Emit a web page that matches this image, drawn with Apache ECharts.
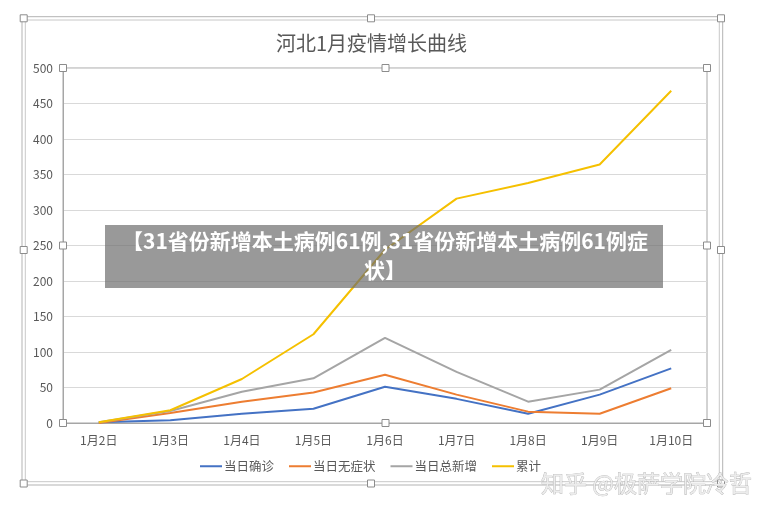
<!DOCTYPE html>
<html>
<head>
<meta charset="utf-8">
<script src="https://cdn.jsdelivr.net/npm/echarts@6/dist/echarts.min.js"></script>
<style>
html,body{margin:0;padding:0;background:#fff;}
#chart{width:770px;height:513px;}
</style>
</head>
<body>
<div id="chart"></div>
<script>
const categories = ['1月2日','1月3日','1月4日','1月5日','1月6日','1月7日','1月8日','1月9日','1月10日'];
const confirmedDaily = [1, 4, 13, 20, 51, 34, 13, 40, 77];
const asymptomaticDaily = [0, 14, 30, 43, 68, 40, 16, 13, 49];
const totalDaily = [1, 17, 44, 63, 120, 72, 30, 47, 103];
const cumulative = [1, 18, 62, 125, 244, 316, 338, 364, 468];
const yTicks = {min: 0, max: 500, interval: 50};

const FONT = '"Noto Sans CJK SC", "Noto Sans", sans-serif';
const chart = echarts.init(document.getElementById('chart'));

function handle(cx, cy) {
  return {type: 'rect', z: 200, shape: {x: cx - 3.5, y: cy - 3.5, width: 7, height: 7},
    style: {fill: '#fff', stroke: '#8c8c8c', lineWidth: 1}};
}
const gL = 63, gR = 707, gT = 68, gB = 423;
const handles = [
  [23.7, 18.3], [371, 18.3], [721, 18.3], [23.7, 250], [721, 250], [23.7, 483.5], [371, 483.5], [721, 483.5],
  [gL, gT], [(gL + gR) / 2 + 0.5, gT], [gR, gT], [gL, (gT + gB) / 2], [gR, (gT + gB) / 2], [gL, gB], [(gL + gR) / 2 + 0.5, gB], [gR, gB]
].map(p => handle(p[0], p[1]));

function mkSeries(name, data, color) {
  return {name, type: 'line', data, symbol: 'none', smooth: false,
    lineStyle: {color, width: 2}, itemStyle: {color}};
}

chart.setOption({
  animation: false,
  textStyle: {fontFamily: FONT},
  title: {text: '河北1月疫情增长曲线', left: 271, top: 28,
    textStyle: {fontFamily: FONT, fontSize: 20, fontWeight: 'normal', color: '#595959'}},
  grid: {left: gL, right: 770 - gR, top: gT, bottom: 513 - gB, show: true, borderColor: '#a6a6a6', borderWidth: 1},
  legend: {top: 460, left: 200, padding: 0, icon: 'rect', itemWidth: 22, itemHeight: 2, itemGap: 15,
    textStyle: {fontFamily: FONT, fontSize: 12.5, color: '#595959', padding: [0, 0, 0, -3]},
    data: ['当日确诊', '当日无症状', '当日总新增', '累计']},
  xAxis: {type: 'category', data: categories, boundaryGap: true,
    axisLine: {lineStyle: {color: '#a6a6a6'}}, axisTick: {show: false},
    axisLabel: {fontFamily: FONT, fontSize: 12, color: '#595959', margin: 11}},
  yAxis: {type: 'value', min: yTicks.min, max: yTicks.max, interval: yTicks.interval,
    axisLine: {show: true, lineStyle: {color: '#a6a6a6'}}, axisTick: {show: false},
    splitLine: {lineStyle: {color: '#d9d9d9'}},
    axisLabel: {fontFamily: FONT, fontSize: 12, color: '#595959', margin: 10}},
  series: [
    mkSeries('当日确诊', confirmedDaily, '#4472C4'),
    mkSeries('当日无症状', asymptomaticDaily, '#ED7D31'),
    mkSeries('当日总新增', totalDaily, '#A5A5A5'),
    mkSeries('累计', cumulative, '#F5C000')
  ],
  graphic: [
    {type: 'rect', z: 150, silent: true, shape: {x: 22, y: 16.7, width: 700.7, height: 468.3},
      style: {fill: 'none', stroke: '#b3b3b3', lineWidth: 1}},
    {type: 'rect', z: 150, silent: true, shape: {x: 25.3, y: 20, width: 694, height: 461.7},
      style: {fill: 'none', stroke: '#c8c8c8', lineWidth: 1}},
    ...handles,
    {type: 'rect', z: 300, silent: true, shape: {x: 105, y: 225, width: 558, height: 63},
      style: {fill: 'rgba(110,110,110,0.7)'}},
    {type: 'text', z: 301, silent: true, x: 385, y: 256,
      style: {text: '【31省份新增本土病例61例,31省份新增本土病例61例症\n状】', fill: '#fff',
        font: 'bold 21px ' + FONT, textAlign: 'center', textVerticalAlign: 'middle', lineHeight: 29}},
    {type: 'text', z: 302, silent: true, x: 541, y: 483,
      style: {text: '知乎 @极萨学院冷哲', fill: '#ececec', stroke: '#b0b0b0', lineWidth: 0.7,
        font: '23px ' + FONT, textAlign: 'left', textVerticalAlign: 'middle'}}
  ]
});
</script>
</body>
</html>
